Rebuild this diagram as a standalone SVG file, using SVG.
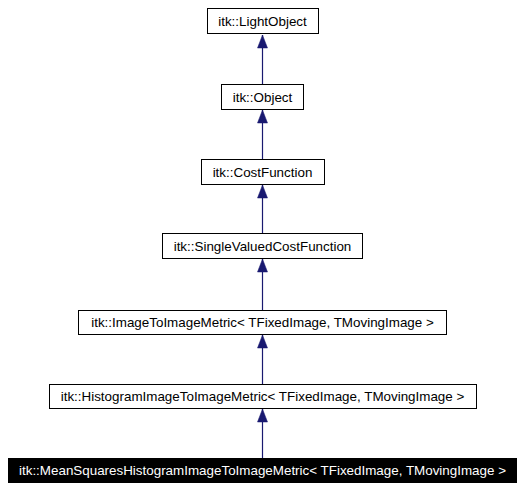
<svg xmlns="http://www.w3.org/2000/svg" width="524" height="490" viewBox="0 0 524 490">
<style>
.b{fill:#fff;stroke:#000;stroke-width:1}
.k{fill:#000;stroke:#000;stroke-width:1}
.t{font-family:"Liberation Sans",Arial,sans-serif;font-size:13.4px;text-anchor:middle;fill:#000}
.w{fill:#fff}
.e{stroke:#191970;stroke-width:1.2;fill:none;marker-end:url(#a)}
</style>
<defs>
<marker id="a" markerWidth="10" markerHeight="13" refX="5" refY="0" orient="0" markerUnits="userSpaceOnUse" viewBox="0 0 10 13" overflow="visible">
<path d="M0,13 L5,0 L10,13 Z" fill="#191970" stroke="#191970" stroke-width="0.5"/>
</marker>
</defs>
<g id="edges">
<path class="e" d="M262.5,84 V35"/>
<path class="e" d="M262.5,159 V110"/>
<path class="e" d="M262.5,233 V185"/>
<path class="e" d="M262.5,310 V259"/>
<path class="e" d="M262.5,384 V335"/>
<path class="e" d="M262.5,458 V409"/>
</g>
<g id="n1"><rect class="b" x="207.5" y="8.5" width="111" height="25"/><text class="t" x="262.5" y="26">itk::LightObject</text></g>
<g id="n2"><rect class="b" x="221.5" y="84.5" width="82" height="25"/><text class="t" x="262.5" y="102">itk::Object</text></g>
<g id="n3"><rect class="b" x="201.5" y="159.5" width="123" height="25"/><text class="t" x="262.5" y="177">itk::CostFunction</text></g>
<g id="n4"><rect class="b" x="162.5" y="233.5" width="200" height="25"/><text class="t" x="262.5" y="251">itk::SingleValuedCostFunction</text></g>
<g id="n5"><rect class="b" x="78.5" y="310.5" width="368" height="24"/><text class="t" x="262.5" y="327">itk::ImageToImageMetric&lt; TFixedImage, TMovingImage &gt;</text></g>
<g id="n6"><rect class="b" x="49.5" y="384.5" width="427" height="24"/><text class="t" x="262.5" y="401">itk::HistogramImageToImageMetric&lt; TFixedImage, TMovingImage &gt;</text></g>
<g id="n7"><rect class="k" x="8.5" y="458.5" width="508" height="24"/><text class="t w" x="262.5" y="475">itk::MeanSquaresHistogramImageToImageMetric&lt; TFixedImage, TMovingImage &gt;</text></g>
</svg>
